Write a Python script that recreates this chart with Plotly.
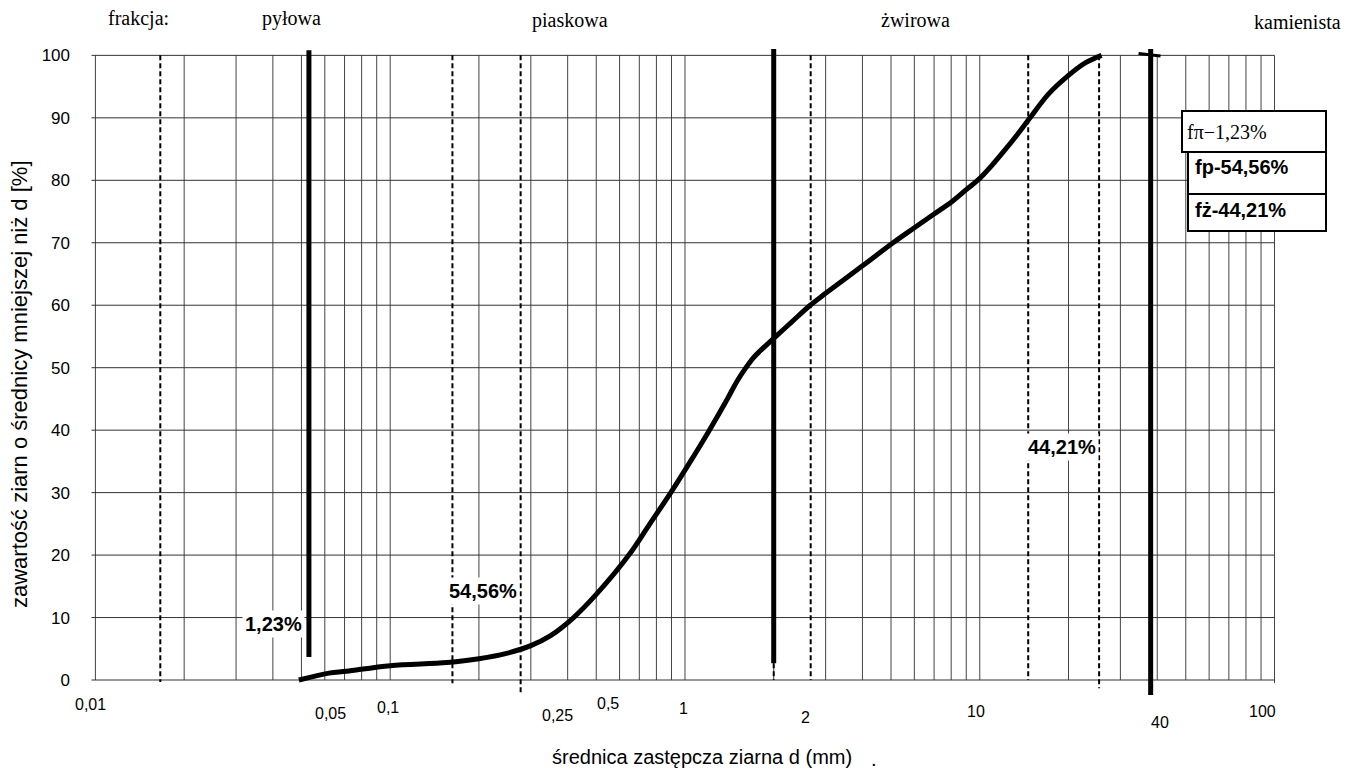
import numpy as np
import plotly.graph_objects as go

# ---------------- data ----------------
diam = [0.049, 0.062, 0.071, 0.10, 0.156, 0.20, 0.25, 0.30, 0.35, 0.419, 0.50,
        0.645, 0.76, 0.895, 1.05, 1.21, 1.40, 1.50, 1.61, 1.70, 1.80, 2.0, 2.3, 2.66,
        3.0, 4.0, 5.08, 6.0, 7.0, 8.1, 9.0, 10.0, 11.0, 12.0, 13.4, 14.7, 17.1, 20.0,
        22.8, 25.9]
passing = [0.0, 1.1, 1.4, 2.3, 2.8, 3.4, 4.3, 5.5, 7.1, 10.0, 13.7,
           20.0, 25.0, 30.0, 35.2, 40.0, 45.2, 47.8, 50.0, 51.5, 52.7, 54.7, 57.3, 60.0,
           61.9, 66.3, 70.0, 72.4, 74.6, 76.7, 78.5, 80.3, 82.4, 84.5, 87.3, 89.8, 93.8, 96.8,
           98.8, 100.0]

boundary_d = [0.053, 2.0, 38.0]          # fraction boundaries (thick lines)
boundary_top = [100.8, 101.0, 101.0]
boundary_bottom = [3.7, 2.7, -2.4]

dashed_d = [0.0166, 0.1626, 0.277, 2.67, 14.6, 25.4]
dashed_bottom = [-0.3, -0.5, -2.3, 0.0, 0.0, -1.3]

grid_decades = [0.01, 0.1, 1.0, 10.0]
grid_mult = [1, 2, 3, 4, 5, 6, 7, 8, 9]
grid_last = 100.0
y_grid = [0, 10, 20, 30, 40, 50, 60, 70, 80, 90, 100]

x_tick_vals = [0.01, 0.05, 0.1, 0.25, 0.5, 1, 2, 10, 40, 100]
x_tick_text = ["0,01", "0,05", "0,1", "0,25", "0,5", "1", "2", "10", "40", "100"]

fraction_names = ["frakcja:", "pyłowa", "piaskowa", "żwirowa", "kamienista"]
percent_labels = ["1,23%", "54,56%", "44,21%"]
legend_texts = ["fπ−1,23%", "fp-54,56%", "fż-44,21%"]

# ---------------- layout geometry (pixels) ----------------
L, W, T, H = 91, 1185, 46, 659
FIG_W, FIG_H = 1363, 778
XR = [-2.015, 2.005]
YR = [-4.0, 101.5]

def pxp(px):
    return (px - L) / W

def pyp(py):
    return 1 - (py - T) / H

# label offsets (pixel) relative to tick positions; vertical pixel positions
x_tick_dx = [-5, 29, -2, 50, 12, -1, 32, -4, 3, -12]
x_tick_py = [704, 713, 707, 715, 703, 708, 717, 711, 722, 711]
fraction_pos = [(138, 18), (291, 18), (570, 20), (915, 20), (1297, 22)]
percent_pos = [(273, 624), (483, 591), (1062, 447)]
legend_boxes = [(1182, 111, 1326, 152), (1188, 152, 1326, 194), (1188, 194, 1326, 231)]
legend_text_pos = [(1185, 132), (1193, 167), (1193, 210)]

SANS = "Liberation Sans, Arial, sans-serif"
SERIF = "Liberation Serif, Times New Roman, serif"

fig = go.Figure()

# vertical grid
gx, gy = [], []
for dec in grid_decades:
    for m in grid_mult:
        v = dec * m
        gx += [v, v, None]
        gy += [0, 100, None]
gx += [grid_last, grid_last, None]
gy += [-0.5, 100, None]
fig.add_trace(go.Scatter(x=gx, y=gy, mode="lines", line=dict(color="#444444", width=1),
                         hoverinfo="skip", showlegend=False))
# horizontal grid
hx, hy = [], []
for yv in y_grid:
    hx += [0.0097, grid_last, None]
    hy += [yv, yv, None]
fig.add_trace(go.Scatter(x=hx, y=hy, mode="lines", line=dict(color="#333333", width=1),
                         hoverinfo="skip", showlegend=False))

# dashed lines
dx_, dy_ = [], []
for d, b in zip(dashed_d, dashed_bottom):
    dx_ += [d, d, None]
    dy_ += [100, b, None]
# thin dashed continuation of the middle boundary
dx_ += [boundary_d[1], boundary_d[1], None]
dy_ += [boundary_bottom[1], 0, None]
fig.add_trace(go.Scatter(x=dx_, y=dy_, mode="lines",
                         line=dict(color="black", width=2, dash="5px,3px"),
                         hoverinfo="skip", showlegend=False))

# thick boundary lines
bx, by = [], []
for d, t, b in zip(boundary_d, boundary_top, boundary_bottom):
    bx += [d, d, None]
    by += [t, b, None]
fig.add_trace(go.Scatter(x=bx, y=by, mode="lines", line=dict(color="black", width=5),
                         hoverinfo="skip", showlegend=False))
# small bar on top of the last boundary
fig.add_trace(go.Scatter(x=[boundary_d[2] * 0.91, boundary_d[2] * 1.08], y=[100.3, 99.9],
                         mode="lines", line=dict(color="black", width=3),
                         hoverinfo="skip", showlegend=False))

# grain size curve
fig.add_trace(go.Scatter(x=diam, y=passing, mode="lines",
                         line=dict(color="black", width=5, shape="spline", smoothing=1.0),
                         hoverinfo="skip", showlegend=False))

ann = []
# x tick labels
for v, t, dx, py in zip(x_tick_vals, x_tick_text, x_tick_dx, x_tick_py):
    ann.append(dict(x=np.log10(v), xref="x", y=pyp(py), yref="paper", text=t,
                    showarrow=False, xshift=dx, xanchor="center", yanchor="middle",
                    font=dict(family=SANS, size=16, color="black")))
# fraction names
for name, (px, py) in zip(fraction_names, fraction_pos):
    ann.append(dict(x=pxp(px), y=pyp(py), xref="paper", yref="paper", text=name,
                    showarrow=False, xanchor="center", yanchor="middle",
                    font=dict(family=SERIF, size=20, color="black")))
# percent labels
for lab, (px, py) in zip(percent_labels, percent_pos):
    ann.append(dict(x=pxp(px), y=pyp(py), xref="paper", yref="paper", text="<b>%s</b>" % lab,
                    showarrow=False, xanchor="center", yanchor="middle", bgcolor="white",
                    borderpad=2, font=dict(family=SANS, size=20, color="black")))
# legend box texts
for i, (lab, (px, py)) in enumerate(zip(legend_texts, legend_text_pos)):
    if i == 0:
        txt, fam = lab, SERIF
    else:
        txt, fam = "<b>%s</b>" % lab, SANS
    ann.append(dict(x=pxp(px), y=pyp(py), xref="paper", yref="paper", text=txt,
                    showarrow=False, xanchor="left", yanchor="middle",
                    font=dict(family=fam, size=20, color="black")))
# axis titles
ann.append(dict(x=pxp(702), y=pyp(757), xref="paper", yref="paper",
                text="średnica zastępcza ziarna d (mm)", showarrow=False,
                xanchor="center", yanchor="middle",
                font=dict(family=SANS, size=20, color="black")))
ann.append(dict(x=pxp(874), y=pyp(759), xref="paper", yref="paper", text=".",
                showarrow=False, xanchor="center", yanchor="middle",
                font=dict(family=SANS, size=20, color="black")))
ann.append(dict(x=pxp(19), y=pyp(384), xref="paper", yref="paper",
                text="zawartość ziarn o średnicy mniejszej niż d [%]", showarrow=False,
                textangle=-90, xanchor="center", yanchor="middle",
                font=dict(family=SANS, size=22, color="black")))

shapes = []
for (x0, y0, x1, y1) in legend_boxes:
    shapes.append(dict(type="rect", xref="paper", yref="paper",
                       x0=pxp(x0), x1=pxp(x1), y0=pyp(y1), y1=pyp(y0),
                       line=dict(color="black", width=2), fillcolor="white", layer="above"))

fig.update_layout(
    width=FIG_W, height=FIG_H,
    margin=dict(l=L, r=FIG_W - L - W, t=T, b=FIG_H - T - H),
    paper_bgcolor="white", plot_bgcolor="white",
    annotations=ann, shapes=shapes,
    xaxis=dict(type="log", range=XR, showgrid=False, zeroline=False, showline=False,
               showticklabels=False, ticks=""),
    yaxis=dict(range=YR, showgrid=False, zeroline=False, showline=False, ticks="",
               tickvals=y_grid, ticktext=[str(v) for v in y_grid], ticklabelstandoff=20,
               tickfont=dict(family=SANS, size=17, color="black")),
    showlegend=False,
)

fig.write_html("out.html", config={"displayModeBar": False},
               post_script="document.body.style.margin='0';")
